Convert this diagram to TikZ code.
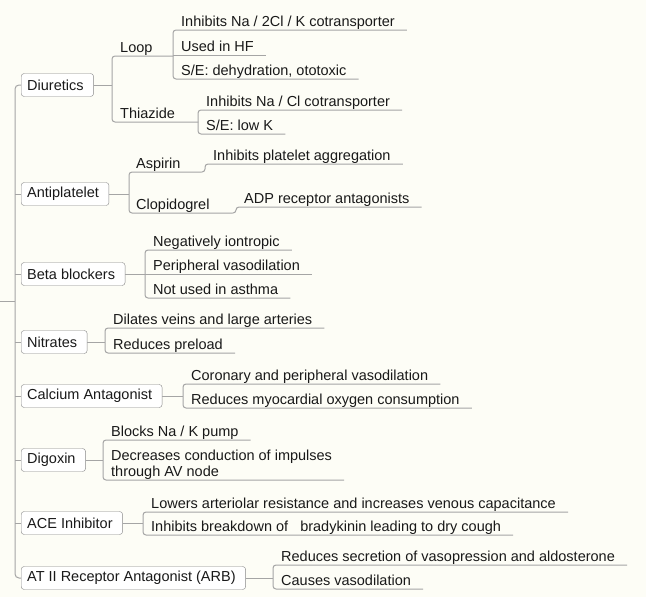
\documentclass[tikz,border=0pt]{standalone}
\usepackage{fontspec}
\setmainfont{Liberation Sans}
\usepackage{xcolor}
\definecolor{paper}{RGB}{253,253,246}
\definecolor{twig}{RGB}{165,165,165}
\definecolor{frame}{RGB}{135,135,135}
\definecolor{ink}{RGB}{25,25,25}

\begin{document}
\begin{tikzpicture}[
  x=1pt, y=-1pt,
  drug/.style={rectangle, rounded corners=3pt, draw=frame, fill=white, anchor=west, minimum height=23pt, inner xsep=6pt, font=\fontsize{14.5}{16}\selectfont, text=ink, execute at end node={\hspace*{4pt}}},
  fact/.style={anchor=south west, inner xsep=8pt, inner ysep=3.5pt, text depth=0pt, align=left, font=\fontsize{14.5}{16}\selectfont, text=ink, execute at end node={\hspace*{4pt}}},
  link/.style={draw=twig, line width=1pt}
]
\fill[paper] (0,0) rectangle (646,597);
\useasboundingbox (0,0) rectangle (646,597);

% drug classes
\node[drug] (diu) at (21,85) {Diuretics};
\node[drug] (anti) at (21,194) {Antiplatelet};
\node[drug] (beta) at (21,274) {Beta blockers};
\node[drug] (nitr) at (21,342) {Nitrates};
\node[drug] (calc) at (21,396) {Calcium Antagonist};
\node[drug] (digo) at (21,460) {Digoxin};
\node[drug] (ace) at (21,523) {ACE Inhibitor};
\node[drug] (arb) at (21,578) {AT II Receptor Antagonist (ARB)};

% sub groups
\node[fact, text width=45pt] (loop) at (112,56) {Loop};
\node[fact, text width=70pt] (thia) at (112,122) {Thiazide};
\node[fact, text width=58pt, inner xsep=7pt] (aspi) at (129,172) {Aspirin};
\node[fact, text width=89pt, inner xsep=7pt] (clop) at (129,213) {Clopidogrel};

% facts
\node[fact] (l1) at (173,30) {Inhibits Na / 2Cl / K cotransporter};
\node[fact] (l2) at (173,55) {Used in HF};
\node[fact] (l3) at (173,79) {S/E: dehydration, ototoxic};
\node[fact] (t1) at (198,110) {Inhibits Na / Cl cotransporter};
\node[fact] (t2) at (198,134) {S/E: low K};
\node[fact] (a1) at (205,164) {Inhibits platelet aggregation};
\node[fact] (c1) at (236,207) {ADP receptor antagonists};
\node[fact] (b1) at (145,250) {Negatively iontropic};
\node[fact] (b2) at (145,274) {Peripheral vasodilation};
\node[fact] (b3) at (145,298) {Not used in asthma};
\node[fact] (n1) at (105,328) {Dilates veins and large arteries};
\node[fact] (n2) at (105,353) {Reduces preload};
\node[fact] (k1) at (183,384) {Coronary and peripheral vasodilation};
\node[fact] (k2) at (183,408) {Reduces myocardial oxygen consumption};
\node[fact] (d1) at (103,440) {Blocks Na / K pump};
\node[fact] (d2) at (103,480) {Decreases conduction of impulses\\through AV node};
\node[fact] (e1) at (143,512) {Lowers arteriolar resistance and increases venous capacitance};
\node[fact] (e2) at (143,535) {Inhibits breakdown of\ \ \ bradykinin leading to dry cough};
\node[fact] (r1) at (273,565) {Reduces secretion of vasopression and aldosterone};
\node[fact] (r2) at (273,589) {Causes vasodilation};

% trunk
\coordinate (trunk) at (15,0);
\coordinate (root) at (0,301);
\draw[link] (root) -- (root -| trunk);
\draw[link, rounded corners=4pt] (diu.west) -- (diu.west -| trunk) -- (arb.west -| trunk) -- (arb.west);
\foreach \n in {anti,beta,nitr,calc,digo,ace}
  \draw[link] (\n.west -| trunk) -- (\n.west);

% branches
\foreach \p/\c in {diu/loop, anti/aspi, beta/b1, nitr/n1, calc/k1, digo/d1, ace/e1, arb/r1}
  \draw[link] (\p.east) -- (\p.east -| \c.south west);
\foreach \a/\b in {loop/thia, l1/l3, t1/t2, aspi/clop, b1/b3, n1/n2, k1/k2, d1/d2, e1/e2, r1/r2}
  \draw[link, rounded corners=3pt] (\a.south east) -- (\a.south west) -- (\b.south west) -- (\b.south east);
\foreach \m in {l2, b2}
  \draw[link] (\m.south west) -- (\m.south east);
\draw[link, rounded corners=3pt] (aspi.south east) -| (a1.south west) -- (a1.south east);
\draw[link, rounded corners=3pt] (clop.south east) -| (c1.south west) -- (c1.south east);
\end{tikzpicture}
\end{document}
